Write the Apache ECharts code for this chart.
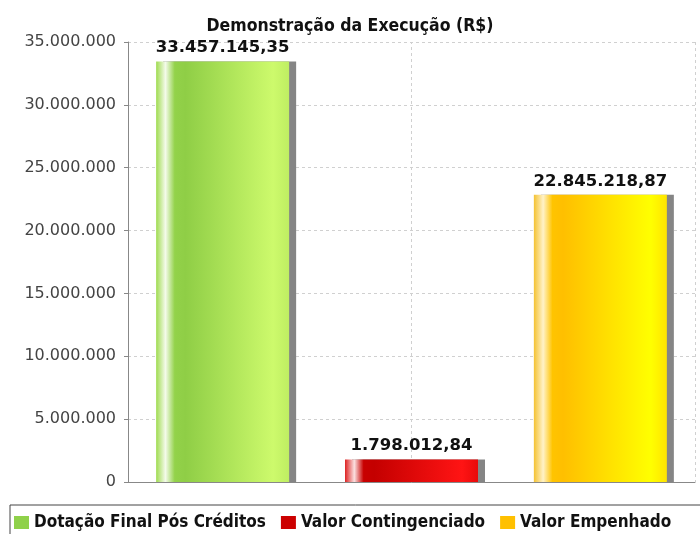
<!DOCTYPE html>
<html>
<head>
<meta charset="utf-8">
<script src="https://cdn.jsdelivr.net/npm/echarts@6/dist/echarts.min.js"></script>
<style>
  html, body { margin: 0; padding: 0; background: #fff; }
  #main { width: 700px; height: 534px; }
</style>
</head>
<body>
<div id="main"></div>
<script>
// dados do gráfico
var categorias = ['Execução'];
var nomesSeries = ['Dotação Final Pós Créditos', 'Valor Contingenciado', 'Valor Empenhado'];
var valores = [33457145.35, 1798012.84, 22845218.87];
var coresLegenda = ['#8fd14a', '#cc0000', '#ffc000'];
var eixoY = { min: 0, max: 35000000, interval: 5000000 };

// cores em degradê (cilindro)
var degrades = [
  ['#9fdb4f', '#f4fbea', '#93d24a', '#8fce46', '#cdfa6c', '#bfee62'],
  ['#dd2222', '#fbe0e0', '#c80000', '#c40000', '#ff1414', '#e80a0a'],
  ['#f4c232', '#fff2c8', '#ffc400', '#ffbf00', '#ffff00', '#ffe400']
];

function grad(c) {
  return new echarts.graphic.LinearGradient(0, 0, 1, 0, [
    { offset: 0, color: c[0] },
    { offset: 0.07, color: c[1] },
    { offset: 0.14, color: c[2] },
    { offset: 0.22, color: c[3] },
    { offset: 0.88, color: c[4] },
    { offset: 1, color: c[5] }
  ]);
}

// formato brasileiro: 33.457.145,35
function fmtBR(v, dec) {
  var s = v.toFixed(dec);
  var partes = s.split('.');
  var inteiro = partes[0].replace(/\B(?=(\d{3})+(?!\d))/g, '.');
  return dec > 0 ? inteiro + ',' + partes[1] : inteiro;
}

var myChart = echarts.init(document.getElementById('main'));

var series = nomesSeries.map(function (nome, i) {
  return {
    name: nome,
    type: 'bar',
    barWidth: 133,
    barGap: '42%',
    z: 3,
    data: [valores[i]],
    itemStyle: {
      color: grad(degrades[i]),
      shadowColor: '#858585',
      shadowBlur: 0,
      shadowOffsetX: 7,
      shadowOffsetY: 0
    },
    label: {
      show: true,
      position: 'top',
      distance: 5,
      color: '#111',
      fontFamily: 'DejaVu Sans',
      fontWeight: 'bold',
      fontSize: 16.5,
      formatter: function (p) { return fmtBR(p.value, 2); }
    }
  };
});

// linha vertical pontilhada no centro da categoria
series.push({
  name: 'grade',
  type: 'line',
  data: [],
  silent: true,
  z: 1,
  markLine: {
    silent: true,
    z: 1,
    symbol: 'none',
    label: { show: false },
    lineStyle: { color: '#d0d0d0', type: [3, 3], width: 1 },
    data: [{ xAxis: categorias[0] }]
  }
});

myChart.setOption({
  animation: false,
  title: {
    text: 'Demonstração da Execução (R$)',
    left: 'center',
    top: 12,
    textStyle: {
      fontFamily: 'DejaVu Sans Condensed',
      fontWeight: 'bold',
      fontSize: 17.5,
      color: '#111'
    }
  },
  legend: {
    left: 10,
    top: 505,
    width: 900,
    orient: 'horizontal',
    padding: [9, 60, 12, 4],
    itemGap: 15,
    itemWidth: 15,
    itemHeight: 13,
    icon: 'rect',
    borderColor: '#444',
    borderWidth: 1,
    textStyle: {
      fontFamily: 'DejaVu Sans Condensed',
      fontWeight: 'bold',
      fontSize: 17,
      color: '#111'
    },
    data: nomesSeries.map(function (n, i) {
      return { name: n, itemStyle: { color: coresLegenda[i], shadowOffsetX: 0, shadowColor: 'transparent' } };
    })
  },
  grid: { left: 128, right: 5, top: 42, bottom: 52, containLabel: false },
  xAxis: {
    type: 'category',
    data: categorias,
    axisLine: { lineStyle: { color: '#888' } },
    axisTick: { alignWithLabel: true, length: 4, lineStyle: { color: '#888' } },
    axisLabel: { show: false },
    splitLine: { show: true, lineStyle: { color: '#d0d0d0', type: [3, 3] } }
  },
  yAxis: {
    type: 'value',
    min: eixoY.min,
    max: eixoY.max,
    interval: eixoY.interval,
    axisLine: { show: true, lineStyle: { color: '#888' } },
    axisTick: { show: true, length: 4, lineStyle: { color: '#888' } },
    axisLabel: {
      margin: 12,
      color: '#444',
      fontFamily: 'DejaVu Sans',
      fontSize: 16,
      formatter: function (v) { return fmtBR(v, 0); }
    },
    splitLine: { lineStyle: { color: '#d0d0d0', type: [3, 3] } }
  },
  series: series
});
</script>
</body>
</html>
